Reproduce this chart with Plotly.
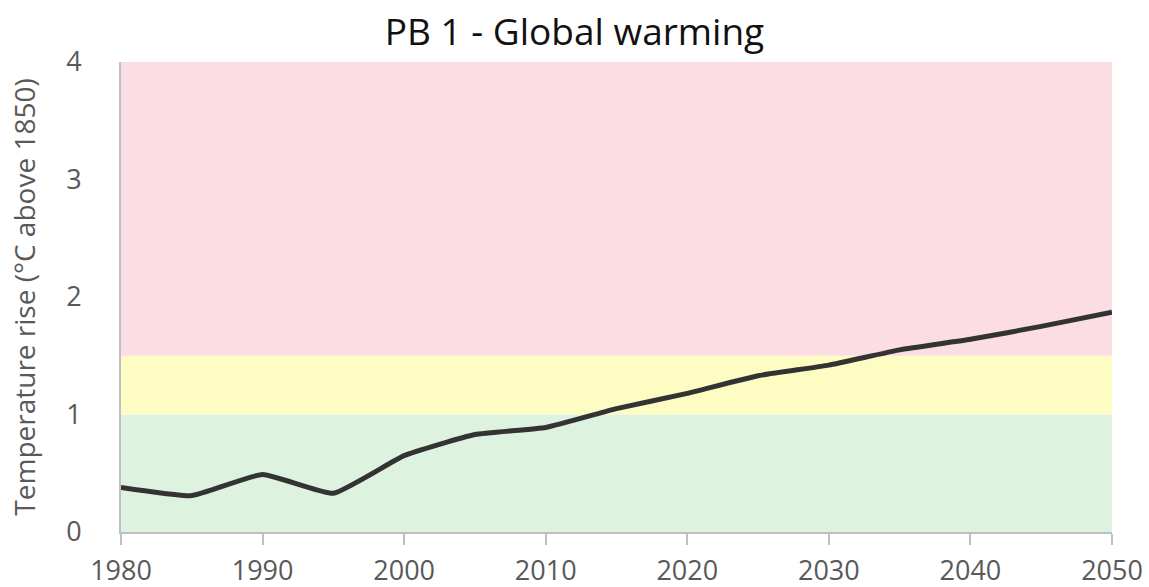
import plotly.graph_objects as go

# Projected global temperature rise, 5-year steps
years = [1980, 1985, 1990, 1995, 2000, 2005, 2010, 2015, 2020, 2025, 2030, 2035, 2040, 2045, 2050]
temp_rise = [0.38, 0.31, 0.49, 0.33, 0.65, 0.83, 0.89, 1.05, 1.18, 1.33, 1.42, 1.55, 1.64, 1.75, 1.87]

# Boundary zones: (lower, upper, colour)
zone_low = [0, 1.0, 1.5]
zone_high = [1.0, 1.5, 4.0]
zone_colors = ["#DDF2DF", "#FCFCC3", "#FBDDE3"]

x_ticks = [1980, 1990, 2000, 2010, 2020, 2030, 2040, 2050]
y_ticks = [0, 1, 2, 3, 4]

font_family = "Open Sans, Liberation Sans, sans-serif"
grey = "#595959"

fig = go.Figure()

shapes = []
for lo, hi, col in zip(zone_low, zone_high, zone_colors):
    shapes.append(dict(type="rect", xref="x", yref="y", x0=years[0], x1=years[-1],
                       y0=lo, y1=hi, fillcolor=col, line=dict(width=0), layer="below"))

fig.add_trace(go.Scatter(
    x=years, y=temp_rise, mode="lines",
    line=dict(color="#333333", width=5, shape="spline", smoothing=0.4),
    hoverinfo="x+y", showlegend=False,
))

fig.update_layout(
    width=1149, height=587,
    margin=dict(l=121, r=37, t=62, b=55),
    paper_bgcolor="white", plot_bgcolor="white",
    shapes=shapes,
    title=dict(text="PB 1 - Global warming", x=0.5, xanchor="center",
               y=0.945, yanchor="middle",
               font=dict(family=font_family, size=37, color="#111111")),
    xaxis=dict(range=[1980, 2050], tickvals=x_ticks, showgrid=False, zeroline=False,
               showline=True, linecolor="#BFBFBF", linewidth=2, automargin=False,
               ticks="outside", ticklen=11, tickcolor="#BFBFBF", tickwidth=2,
               ticklabelstandoff=3,
               tickfont=dict(family=font_family, size=27, color=grey)),
    yaxis=dict(range=[0, 4], tickvals=y_ticks, showgrid=False, zeroline=False,
               showline=True, linecolor="#BFBFBF", linewidth=2, automargin=False,
               ticks="", ticklabelstandoff=32,
               tickfont=dict(family=font_family, size=27, color=grey),
               title=dict(text="Temperature rise (°C above 1850)", standoff=22,
                          font=dict(family=font_family, size=28, color=grey))),
)

fig.write_html("out.html")
